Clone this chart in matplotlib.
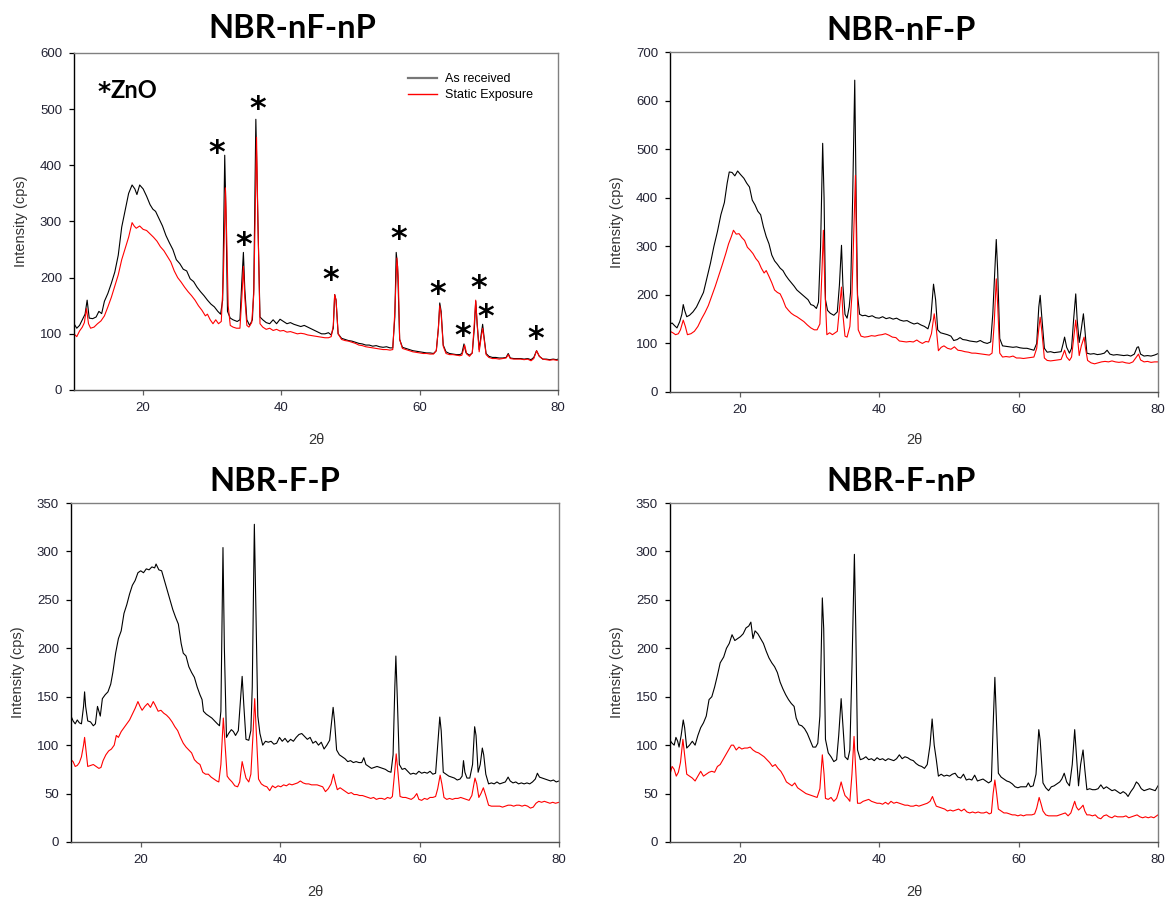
import matplotlib
matplotlib.use("Agg")
import matplotlib.pyplot as plt
from matplotlib.lines import Line2D

# ---------------- data (2theta, intensity cps) ----------------
nFnP_received = [
    (10.0, 118), (10.4, 110), (10.8, 115), (11.2, 125), (11.6, 135), (11.9, 160), (12.2, 128), (12.7, 127),
    (13.2, 130), (13.6, 140), (14.0, 136), (14.4, 158), (14.9, 172), (15.4, 190), (15.9, 210), (16.4, 240),
    (16.9, 290), (17.4, 320), (17.9, 350), (18.4, 365), (18.8, 358), (19.1, 348), (19.5, 365), (20.0, 358),
    (20.5, 345), (21.0, 330), (21.4, 322), (21.8, 318), (22.3, 305), (22.8, 292), (23.3, 275), (23.8, 262),
    (24.3, 250), (24.8, 232), (25.3, 225), (25.8, 215), (26.3, 212), (26.8, 198), (27.3, 193), (27.8, 183),
    (28.3, 175), (28.8, 168), (29.3, 160), (29.8, 153), (30.3, 148), (30.8, 140), (31.2, 135), (31.5, 160),
    (31.8, 418), (32.0, 300), (32.2, 140), (32.6, 128), (33.0, 125), (33.6, 122), (34.0, 125), (34.3, 200),
    (34.5, 245), (34.7, 180), (35.0, 125), (35.4, 115), (35.8, 125), (36.0, 180), (36.3, 482), (36.6, 300),
    (36.9, 130), (37.3, 125), (37.8, 120), (38.3, 118), (38.8, 125), (39.3, 118), (39.8, 126), (40.3, 122),
    (40.8, 118), (41.3, 120), (41.8, 117), (42.3, 115), (42.8, 113), (43.3, 115), (43.8, 112), (44.3, 109),
    (44.8, 106), (45.3, 103), (45.8, 100), (46.3, 100), (46.8, 102), (47.2, 98), (47.5, 110), (47.7, 170),
    (47.9, 160), (48.2, 100), (48.7, 92), (49.2, 90), (49.7, 88), (50.2, 87), (50.7, 85), (51.2, 83),
    (51.7, 82), (52.2, 80), (52.7, 80), (53.2, 78), (53.7, 79), (54.2, 77), (54.7, 76), (55.2, 77),
    (55.7, 75), (56.1, 75), (56.4, 130), (56.6, 245), (56.8, 220), (57.1, 90), (57.5, 76), (58.0, 74),
    (58.5, 72), (59.0, 70), (59.5, 69), (60.0, 68), (60.5, 67), (61.0, 66), (61.5, 66), (62.0, 65),
    (62.4, 70), (62.7, 110), (62.9, 155), (63.1, 140), (63.4, 80), (63.8, 68), (64.3, 65), (64.8, 64),
    (65.3, 63), (65.8, 63), (66.1, 65), (66.4, 82), (66.7, 66), (67.2, 62), (67.6, 66), (67.9, 110),
    (68.1, 158), (68.3, 120), (68.6, 72), (68.9, 100), (69.1, 117), (69.3, 95), (69.6, 65), (70.0, 60),
    (70.5, 58), (71.0, 58), (71.5, 57), (72.0, 57), (72.5, 58), (72.8, 65), (73.1, 57), (73.6, 56),
    (74.1, 56), (74.6, 56), (75.1, 55), (75.6, 56), (76.1, 54), (76.5, 58), (76.9, 70), (77.3, 60),
    (77.8, 55), (78.3, 55), (78.8, 54), (79.3, 55), (79.8, 54), (80.0, 55),
]
nFnP_static = [
    (10.0, 100), (10.4, 95), (10.8, 105), (11.2, 112), (11.5, 120), (11.8, 145), (12.1, 118), (12.4, 110),
    (12.9, 112), (13.4, 118), (13.9, 123), (14.4, 132), (14.9, 148), (15.4, 165), (15.9, 185), (16.4, 205),
    (16.9, 232), (17.4, 252), (17.9, 272), (18.4, 298), (18.7, 292), (19.0, 288), (19.5, 292), (20.0, 286),
    (20.5, 284), (21.0, 278), (21.5, 272), (22.0, 265), (22.5, 255), (23.0, 248), (23.5, 238), (24.0, 228),
    (24.5, 212), (25.0, 200), (25.5, 192), (26.0, 183), (26.5, 175), (27.0, 168), (27.5, 160), (28.0, 150),
    (28.5, 142), (29.0, 132), (29.3, 135), (29.7, 125), (30.1, 118), (30.5, 125), (30.9, 118), (31.3, 122),
    (31.6, 200), (31.9, 360), (32.1, 265), (32.3, 150), (32.6, 115), (33.0, 112), (33.5, 110), (34.0, 110),
    (34.3, 170), (34.5, 220), (34.7, 165), (35.0, 115), (35.3, 112), (35.7, 120), (36.0, 170), (36.4, 450),
    (36.6, 300), (36.9, 118), (37.3, 112), (37.8, 108), (38.3, 110), (38.8, 106), (39.3, 108), (39.8, 105),
    (40.3, 106), (40.8, 103), (41.3, 104), (41.8, 102), (42.3, 100), (42.8, 101), (43.3, 100), (43.8, 98),
    (44.3, 97), (44.8, 96), (45.3, 95), (45.8, 94), (46.3, 93), (46.8, 93), (47.2, 95), (47.5, 115),
    (47.7, 170), (47.9, 160), (48.2, 100), (48.7, 90), (49.2, 88), (49.7, 87), (50.2, 85), (50.7, 83),
    (51.2, 80), (51.7, 79), (52.2, 77), (52.7, 76), (53.2, 75), (53.7, 74), (54.2, 73), (54.7, 72),
    (55.2, 72), (55.7, 71), (56.1, 72), (56.4, 140), (56.7, 235), (56.9, 200), (57.1, 90), (57.5, 74),
    (58.0, 72), (58.5, 70), (59.0, 68), (59.5, 67), (60.0, 66), (60.5, 65), (61.0, 65), (61.5, 64),
    (62.0, 64), (62.4, 70), (62.7, 110), (62.9, 150), (63.1, 135), (63.4, 78), (63.8, 65), (64.3, 63),
    (64.8, 63), (65.3, 62), (65.8, 61), (66.1, 62), (66.5, 80), (66.8, 64), (67.2, 60), (67.6, 66),
    (67.9, 120), (68.1, 160), (68.3, 118), (68.6, 68), (68.9, 95), (69.1, 110), (69.3, 92), (69.6, 63),
    (70.0, 58), (70.5, 56), (71.0, 56), (71.5, 55), (72.0, 56), (72.5, 57), (72.8, 63), (73.1, 56),
    (73.6, 55), (74.1, 55), (74.6, 55), (75.1, 54), (75.6, 55), (76.1, 52), (76.5, 56), (76.9, 70),
    (77.3, 60), (77.8, 55), (78.3, 54), (78.8, 53), (79.3, 54), (79.8, 53), (80.0, 53),
]

nFP_received = [
    (10.0, 140), (10.3, 142), (10.7, 136), (11.0, 132), (11.4, 145), (11.7, 160), (11.9, 180), (12.1, 168),
    (12.4, 155), (12.8, 158), (13.3, 165), (13.8, 175), (14.3, 190), (14.8, 205), (15.3, 235), (15.8, 265),
    (16.3, 300), (16.8, 330), (17.3, 365), (17.8, 390), (18.2, 430), (18.5, 453), (18.9, 452), (19.3, 445),
    (19.7, 455), (20.1, 448), (20.6, 440), (21.0, 430), (21.4, 422), (21.8, 395), (22.2, 385), (22.6, 372),
    (23.0, 365), (23.4, 340), (23.8, 320), (24.2, 305), (24.6, 282), (25.0, 270), (25.4, 263), (25.8, 255),
    (26.2, 250), (26.6, 240), (27.0, 232), (27.4, 225), (27.8, 218), (28.2, 210), (28.6, 205), (29.0, 200),
    (29.4, 195), (29.8, 190), (30.2, 180), (30.6, 178), (31.0, 172), (31.3, 185), (31.6, 300), (31.9, 512),
    (32.1, 400), (32.3, 190), (32.6, 168), (33.0, 162), (33.5, 158), (34.0, 165), (34.3, 220), (34.6, 302),
    (34.8, 220), (35.1, 160), (35.4, 152), (35.7, 175), (35.9, 205), (36.2, 400), (36.5, 642), (36.7, 400),
    (36.9, 200), (37.2, 160), (37.6, 157), (38.0, 158), (38.5, 155), (39.0, 157), (39.5, 153), (40.0, 152),
    (40.5, 155), (41.0, 151), (41.5, 153), (42.0, 150), (42.5, 152), (43.0, 148), (43.5, 146), (44.0, 147),
    (44.5, 143), (45.0, 140), (45.5, 142), (46.0, 138), (46.5, 135), (47.0, 130), (47.4, 150), (47.8, 222),
    (48.1, 190), (48.4, 128), (48.8, 122), (49.3, 120), (49.8, 118), (50.3, 115), (50.7, 106), (51.2, 108),
    (51.6, 112), (52.0, 108), (52.5, 107), (53.0, 105), (53.5, 104), (54.0, 103), (54.5, 106), (55.0, 102),
    (55.5, 100), (56.0, 103), (56.3, 160), (56.8, 314), (57.0, 250), (57.3, 110), (57.7, 95), (58.2, 94),
    (58.7, 93), (59.2, 92), (59.7, 93), (60.2, 91), (60.7, 90), (61.2, 90), (61.7, 88), (62.2, 86),
    (62.6, 100), (62.9, 175), (63.1, 199), (63.3, 160), (63.7, 90), (64.1, 82), (64.6, 83), (65.1, 81),
    (65.6, 82), (66.1, 83), (66.4, 100), (66.6, 113), (66.9, 92), (67.3, 80), (67.6, 90), (67.9, 150),
    (68.2, 202), (68.4, 150), (68.7, 102), (69.0, 130), (69.3, 161), (69.5, 130), (69.8, 80), (70.3, 78),
    (70.8, 79), (71.3, 77), (71.8, 78), (72.3, 80), (72.7, 86), (73.1, 78), (73.6, 76), (74.1, 77),
    (74.6, 76), (75.1, 75), (75.6, 76), (76.1, 74), (76.6, 78), (77.0, 92), (77.2, 93), (77.5, 78),
    (78.0, 74), (78.5, 75), (79.0, 74), (79.5, 76), (80.0, 79),
]
nFP_static = [
    (10.0, 125), (10.4, 122), (10.8, 118), (11.2, 120), (11.5, 128), (11.9, 148), (12.2, 135), (12.5, 118),
    (13.0, 120), (13.5, 125), (14.0, 135), (14.5, 150), (15.0, 163), (15.5, 178), (16.0, 198), (16.5, 218),
    (17.0, 240), (17.5, 262), (18.0, 285), (18.4, 305), (18.8, 320), (19.1, 333), (19.5, 325), (19.9, 326),
    (20.3, 318), (20.7, 312), (21.1, 298), (21.5, 292), (21.9, 285), (22.3, 275), (22.7, 268), (23.1, 255),
    (23.5, 245), (23.8, 250), (24.2, 238), (24.6, 225), (25.0, 210), (25.4, 205), (25.8, 202), (26.2, 190),
    (26.6, 175), (27.0, 168), (27.4, 162), (27.8, 158), (28.2, 155), (28.7, 150), (29.2, 145), (29.7, 138),
    (30.2, 132), (30.7, 128), (31.1, 128), (31.5, 140), (31.8, 250), (32.0, 333), (32.2, 220), (32.5, 118),
    (32.9, 122), (33.3, 118), (33.7, 122), (34.0, 125), (34.3, 170), (34.6, 216), (34.8, 160), (35.1, 115),
    (35.4, 113), (35.8, 135), (36.1, 200), (36.4, 350), (36.6, 446), (36.8, 250), (37.0, 128), (37.4, 115),
    (37.9, 113), (38.4, 114), (38.9, 116), (39.4, 115), (39.9, 117), (40.4, 118), (40.9, 120), (41.4, 117),
    (41.9, 113), (42.4, 112), (42.9, 105), (43.4, 104), (43.9, 103), (44.4, 104), (44.9, 103), (45.4, 107),
    (45.8, 103), (46.2, 100), (46.7, 104), (47.1, 103), (47.5, 120), (47.9, 161), (48.2, 130), (48.5, 85),
    (48.9, 92), (49.3, 95), (49.8, 90), (50.3, 88), (50.8, 93), (51.3, 86), (51.8, 85), (52.3, 83),
    (52.8, 82), (53.3, 80), (53.8, 80), (54.3, 79), (54.8, 78), (55.3, 77), (55.8, 76), (56.2, 80),
    (56.5, 140), (56.8, 233), (57.0, 180), (57.3, 80), (57.7, 72), (58.2, 73), (58.7, 72), (59.2, 74),
    (59.7, 70), (60.2, 70), (60.7, 69), (61.2, 70), (61.7, 71), (62.2, 72), (62.6, 90), (62.9, 130),
    (63.1, 154), (63.3, 130), (63.7, 70), (64.1, 65), (64.6, 64), (65.1, 65), (65.6, 66), (66.1, 67),
    (66.4, 78), (66.6, 86), (66.9, 72), (67.3, 65), (67.6, 72), (67.9, 110), (68.2, 148), (68.4, 120),
    (68.7, 75), (69.0, 95), (69.4, 113), (69.6, 90), (69.9, 65), (70.4, 60), (70.9, 58), (71.4, 60),
    (71.9, 62), (72.4, 63), (72.9, 62), (73.4, 64), (73.9, 62), (74.4, 61), (74.9, 62), (75.4, 60),
    (75.9, 59), (76.4, 62), (76.8, 70), (77.2, 78), (77.5, 66), (78.0, 62), (78.5, 63), (79.0, 61),
    (79.5, 62), (80.0, 62),
]

FP_received = [
    (10.0, 130), (10.3, 125), (10.6, 122), (10.9, 126), (11.2, 123), (11.5, 122), (11.8, 140), (11.95, 155),
    (12.1, 140), (12.4, 125), (12.8, 124), (13.2, 120), (13.5, 122), (13.8, 140), (14.0, 135), (14.2, 130),
    (14.5, 148), (14.9, 152), (15.3, 155), (15.7, 163), (16.0, 175), (16.4, 195), (16.8, 210), (17.2, 218),
    (17.6, 236), (18.0, 245), (18.4, 256), (18.8, 265), (19.2, 270), (19.6, 278), (20.0, 280), (20.4, 278),
    (20.8, 282), (21.2, 281), (21.6, 284), (22.0, 283), (22.2, 287), (22.6, 281), (23.0, 280), (23.4, 270),
    (23.8, 260), (24.2, 250), (24.6, 240), (25.0, 232), (25.4, 225), (25.8, 205), (26.1, 195), (26.5, 192),
    (26.9, 181), (27.3, 175), (27.7, 170), (28.1, 160), (28.5, 152), (28.8, 147), (29.0, 135), (29.4, 132),
    (29.8, 130), (30.2, 128), (30.6, 125), (31.0, 122), (31.3, 120), (31.5, 135), (31.8, 304), (32.0, 200),
    (32.3, 108), (32.6, 112), (33.0, 116), (33.3, 114), (33.6, 110), (34.0, 115), (34.3, 145), (34.55, 171),
    (34.8, 140), (35.1, 106), (35.5, 105), (35.8, 115), (36.0, 160), (36.3, 328), (36.5, 250), (36.8, 130),
    (37.1, 112), (37.5, 100), (37.9, 104), (38.3, 103), (38.7, 104), (39.1, 101), (39.5, 102), (39.9, 108),
    (40.3, 104), (40.7, 107), (41.1, 103), (41.5, 106), (41.9, 104), (42.3, 108), (42.7, 111), (43.1, 112),
    (43.5, 109), (43.9, 106), (44.3, 108), (44.7, 102), (45.1, 104), (45.5, 100), (45.9, 103), (46.3, 96),
    (46.7, 100), (47.1, 105), (47.4, 125), (47.6, 139), (47.8, 125), (48.1, 95), (48.5, 90), (48.9, 88),
    (49.3, 86), (49.7, 83), (50.1, 84), (50.5, 82), (50.9, 83), (51.3, 82), (51.7, 82), (52.0, 87),
    (52.3, 80), (52.7, 78), (53.1, 76), (53.5, 77), (53.9, 78), (54.3, 77), (54.7, 76), (55.1, 75),
    (55.5, 73), (55.9, 72), (56.2, 90), (56.45, 160), (56.6, 192), (56.8, 150), (57.1, 80), (57.5, 75),
    (57.9, 76), (58.3, 73), (58.7, 70), (59.1, 71), (59.5, 70), (59.9, 73), (60.3, 71), (60.7, 72),
    (61.1, 71), (61.5, 73), (61.9, 70), (62.3, 71), (62.6, 100), (62.9, 129), (63.1, 115), (63.4, 72),
    (63.8, 70), (64.2, 68), (64.6, 67), (65.0, 66), (65.4, 64), (65.8, 65), (66.1, 68), (66.3, 84),
    (66.5, 72), (66.8, 66), (67.2, 66), (67.6, 80), (67.9, 119), (68.1, 110), (68.4, 72), (68.7, 80),
    (69.0, 97), (69.2, 90), (69.5, 70), (69.9, 60), (70.3, 61), (70.7, 60), (71.1, 62), (71.5, 60),
    (71.9, 61), (72.3, 62), (72.7, 67), (73.0, 63), (73.4, 61), (73.8, 62), (74.2, 60), (74.6, 61),
    (75.0, 60), (75.4, 61), (75.8, 60), (76.2, 62), (76.6, 65), (76.9, 71), (77.2, 67), (77.6, 66),
    (78.0, 65), (78.4, 64), (78.8, 63), (79.2, 64), (79.6, 62), (80.0, 63),
]
FP_static = [
    (10.0, 85), (10.3, 83), (10.6, 78), (10.9, 79), (11.2, 82), (11.5, 88), (11.8, 100), (11.95, 108),
    (12.1, 98), (12.4, 78), (12.8, 79), (13.2, 80), (13.6, 78), (14.0, 76), (14.3, 77), (14.6, 84),
    (15.0, 90), (15.4, 94), (15.8, 96), (16.2, 100), (16.5, 110), (16.8, 108), (17.2, 114), (17.6, 118),
    (18.0, 122), (18.4, 126), (18.8, 132), (19.2, 138), (19.6, 145), (19.9, 140), (20.2, 136), (20.6, 140),
    (21.0, 143), (21.4, 139), (21.8, 145), (22.1, 141), (22.5, 135), (22.9, 136), (23.3, 133), (23.7, 131),
    (24.1, 128), (24.5, 124), (24.9, 119), (25.3, 115), (25.7, 108), (26.1, 102), (26.5, 98), (26.9, 95),
    (27.3, 92), (27.7, 85), (28.1, 82), (28.5, 80), (28.9, 72), (29.3, 70), (29.7, 70), (30.1, 67),
    (30.5, 65), (30.9, 63), (31.2, 62), (31.5, 80), (31.85, 128), (32.1, 100), (32.4, 68), (32.7, 65),
    (33.1, 62), (33.5, 58), (33.9, 57), (34.2, 62), (34.55, 83), (34.8, 75), (35.1, 66), (35.5, 62),
    (35.8, 70), (36.1, 110), (36.35, 148), (36.6, 110), (36.9, 65), (37.3, 60), (37.7, 58), (38.1, 57),
    (38.5, 53), (38.9, 58), (39.3, 56), (39.7, 58), (40.1, 57), (40.5, 59), (40.9, 58), (41.3, 60),
    (41.7, 59), (42.1, 60), (42.5, 61), (42.9, 63), (43.3, 61), (43.7, 60), (44.1, 60), (44.5, 59),
    (44.9, 59), (45.3, 59), (45.7, 58), (46.1, 57), (46.5, 52), (46.9, 55), (47.3, 60), (47.65, 70),
    (47.9, 62), (48.2, 54), (48.6, 56), (49.0, 54), (49.4, 52), (49.8, 50), (50.2, 51), (50.6, 49),
    (51.0, 49), (51.4, 48), (51.8, 48), (52.2, 47), (52.6, 46), (53.0, 45), (53.4, 46), (53.8, 44),
    (54.2, 45), (54.6, 45), (55.0, 44), (55.4, 46), (55.8, 45), (56.1, 47), (56.4, 70), (56.65, 91),
    (56.9, 72), (57.2, 47), (57.6, 46), (58.0, 46), (58.4, 45), (58.8, 44), (59.2, 46), (59.6, 50),
    (59.9, 44), (60.3, 43), (60.7, 45), (61.1, 44), (61.5, 46), (61.9, 46), (62.3, 47), (62.6, 55),
    (62.95, 69), (63.2, 60), (63.5, 46), (63.9, 44), (64.3, 45), (64.7, 44), (65.1, 45), (65.5, 45),
    (65.9, 46), (66.3, 45), (66.7, 44), (67.1, 43), (67.5, 48), (67.95, 66), (68.2, 60), (68.5, 46),
    (68.8, 50), (69.15, 56), (69.5, 48), (69.9, 38), (70.3, 37), (70.7, 37), (71.1, 37), (71.5, 37),
    (71.9, 36), (72.3, 37), (72.7, 38), (73.1, 38), (73.5, 37), (73.9, 38), (74.3, 38), (74.7, 37),
    (75.1, 38), (75.5, 37), (75.9, 35), (76.3, 36), (76.7, 40), (77.1, 42), (77.5, 41), (77.9, 42),
    (78.3, 41), (78.7, 40), (79.1, 41), (79.5, 40), (80.0, 41),
]

FnP_received = [
    (10.0, 105), (10.3, 102), (10.6, 100), (10.85, 108), (11.1, 104), (11.3, 98), (11.6, 110), (11.9, 126),
    (12.1, 118), (12.4, 97), (12.8, 100), (13.2, 104), (13.6, 100), (14.0, 110), (14.4, 118), (14.8, 123),
    (15.2, 130), (15.6, 147), (16.0, 150), (16.4, 160), (16.8, 172), (17.2, 185), (17.7, 191), (18.1, 200),
    (18.5, 205), (18.9, 214), (19.3, 208), (19.7, 210), (20.1, 212), (20.5, 215), (20.9, 221), (21.3, 223),
    (21.6, 227), (21.9, 210), (22.2, 218), (22.6, 215), (23.0, 210), (23.4, 205), (23.8, 197), (24.2, 190),
    (24.6, 185), (25.0, 181), (25.4, 175), (25.8, 165), (26.2, 158), (26.6, 152), (27.0, 147), (27.4, 143),
    (27.8, 140), (28.1, 128), (28.5, 121), (28.9, 120), (29.3, 117), (29.7, 112), (30.1, 105), (30.5, 98),
    (30.9, 98), (31.2, 102), (31.5, 130), (31.85, 252), (32.05, 220), (32.3, 106), (32.7, 92), (33.1, 88),
    (33.5, 83), (33.9, 85), (34.2, 110), (34.55, 148), (34.8, 120), (35.1, 88), (35.5, 85), (35.8, 95),
    (36.1, 180), (36.45, 297), (36.65, 220), (36.9, 95), (37.3, 85), (37.7, 86), (38.1, 88), (38.5, 85),
    (38.9, 86), (39.3, 84), (39.7, 87), (40.1, 85), (40.5, 86), (40.9, 84), (41.3, 86), (41.7, 85),
    (42.1, 84), (42.5, 86), (42.9, 90), (43.3, 86), (43.7, 88), (44.1, 87), (44.5, 85), (44.9, 84),
    (45.3, 81), (45.7, 79), (46.1, 78), (46.5, 76), (46.9, 80), (47.3, 100), (47.6, 127), (47.9, 100),
    (48.2, 85), (48.5, 68), (48.9, 70), (49.3, 68), (49.7, 69), (50.1, 68), (50.5, 70), (50.9, 71),
    (51.3, 67), (51.7, 66), (52.1, 70), (52.5, 64), (52.9, 65), (53.3, 64), (53.7, 69), (54.1, 63),
    (54.5, 64), (54.9, 65), (55.3, 63), (55.7, 61), (56.1, 63), (56.35, 120), (56.6, 170), (56.85, 120),
    (57.1, 71), (57.5, 67), (57.9, 65), (58.3, 63), (58.7, 62), (59.1, 60), (59.5, 57), (59.9, 56),
    (60.3, 57), (60.7, 57), (61.1, 57), (61.4, 61), (61.7, 57), (62.1, 58), (62.5, 70), (62.9, 116),
    (63.1, 105), (63.5, 61), (63.9, 56), (64.3, 53), (64.7, 57), (65.1, 58), (65.5, 60), (65.9, 62),
    (66.2, 65), (66.55, 71), (66.9, 62), (67.3, 58), (67.7, 80), (68.05, 116), (68.3, 90), (68.6, 58),
    (68.9, 80), (69.25, 95), (69.5, 75), (69.8, 54), (70.2, 55), (70.6, 54), (71.0, 54), (71.4, 55),
    (71.8, 59), (72.2, 55), (72.6, 57), (73.0, 55), (73.4, 53), (73.8, 54), (74.2, 52), (74.6, 50),
    (75.0, 52), (75.4, 50), (75.7, 47), (76.1, 52), (76.5, 56), (76.9, 62), (77.2, 60), (77.6, 55),
    (78.0, 53), (78.4, 54), (78.8, 55), (79.2, 54), (79.6, 53), (80.0, 58),
]
FnP_static = [
    (10.0, 70), (10.3, 78), (10.6, 75), (10.9, 68), (11.2, 72), (11.5, 82), (11.85, 106), (12.1, 90),
    (12.4, 70), (12.8, 68), (13.2, 66), (13.6, 63), (14.0, 68), (14.4, 73), (14.8, 68), (15.2, 70),
    (15.6, 72), (16.0, 73), (16.4, 72), (16.8, 78), (17.2, 80), (17.6, 85), (18.0, 90), (18.4, 95),
    (18.8, 100), (19.1, 100), (19.5, 95), (19.9, 98), (20.3, 96), (20.7, 97), (21.1, 97), (21.5, 98),
    (21.9, 95), (22.3, 93), (22.7, 92), (23.1, 90), (23.5, 88), (23.9, 85), (24.3, 82), (24.7, 78),
    (25.1, 80), (25.5, 76), (25.9, 73), (26.3, 68), (26.7, 62), (27.1, 60), (27.5, 58), (27.9, 61),
    (28.3, 56), (28.7, 54), (29.1, 52), (29.5, 50), (29.9, 49), (30.3, 48), (30.7, 47), (31.1, 46),
    (31.5, 55), (31.85, 90), (32.1, 70), (32.3, 45), (32.7, 44), (33.1, 46), (33.5, 42), (33.9, 45),
    (34.2, 52), (34.55, 62), (34.8, 55), (35.1, 48), (35.5, 45), (35.8, 42), (36.1, 70), (36.4, 109),
    (36.6, 80), (36.9, 40), (37.3, 40), (37.7, 42), (38.1, 43), (38.5, 44), (38.9, 42), (39.3, 41),
    (39.7, 40), (40.1, 40), (40.5, 39), (40.9, 41), (41.3, 39), (41.7, 42), (42.1, 40), (42.5, 41),
    (42.9, 40), (43.3, 39), (43.7, 38), (44.1, 38), (44.5, 37), (44.9, 37), (45.3, 38), (45.7, 37),
    (46.1, 38), (46.5, 39), (46.9, 40), (47.3, 42), (47.65, 47), (47.9, 42), (48.2, 37), (48.6, 36),
    (49.0, 35), (49.4, 34), (49.8, 32), (50.2, 33), (50.6, 32), (51.0, 33), (51.4, 34), (51.8, 32),
    (52.2, 34), (52.6, 31), (53.0, 30), (53.4, 31), (53.8, 30), (54.2, 31), (54.6, 30), (55.0, 30),
    (55.4, 31), (55.8, 29), (56.1, 30), (56.35, 50), (56.6, 64), (56.85, 50), (57.1, 34), (57.5, 32),
    (57.9, 30), (58.3, 30), (58.7, 29), (59.1, 28), (59.5, 28), (59.9, 27), (60.3, 28), (60.7, 27),
    (61.1, 28), (61.5, 28), (61.9, 28), (62.3, 29), (62.6, 35), (62.95, 46), (63.2, 40), (63.5, 32),
    (63.9, 28), (64.3, 27), (64.7, 27), (65.1, 27), (65.5, 27), (65.9, 28), (66.3, 29), (66.7, 30),
    (67.1, 27), (67.5, 30), (68.05, 42), (68.3, 36), (68.6, 33), (68.9, 35), (69.25, 38), (69.5, 32),
    (69.8, 28), (70.2, 28), (70.6, 27), (71.0, 28), (71.4, 25), (71.8, 24), (72.2, 27), (72.6, 28),
    (73.0, 26), (73.4, 25), (73.8, 27), (74.2, 26), (74.6, 26), (75.0, 26), (75.4, 27), (75.8, 25),
    (76.2, 26), (76.6, 27), (77.0, 28), (77.4, 26), (77.8, 25), (78.2, 26), (78.6, 25), (79.0, 26),
    (79.4, 25), (79.8, 27), (80.0, 28),
]

# ZnO reflection marks on the first panel (2theta, height of the mark centre)
zno_marks = [(30.6, 428), (36.5, 505), (34.5, 264), (47.2, 201), (57.0, 275),
             (62.6, 177), (66.2, 101), (68.6, 187), (69.6, 135), (76.8, 97)]

titles = ["NBR-nF-nP", "NBR-nF-P", "NBR-F-P", "NBR-F-nP"]
series = [(nFnP_received, nFnP_static), (nFP_received, nFP_static),
          (FP_received, FP_static), (FnP_received, FnP_static)]
y_max = [600, 700, 350, 350]
y_step = [100, 100, 50, 50]
x_ticks = [20, 40, 60, 80]
legend_labels = ["As received", "Static Exposure"]

# ---------------- layout ----------------
W, H = 1166, 899
fig = plt.figure(figsize=(W / 100, H / 100), dpi=100)

def px_rect(l, t, r, b):
    return [l / W, 1 - b / H, (r - l) / W, (b - t) / H]

rects = [px_rect(74, 53, 558, 390), px_rect(670, 52, 1158, 392),
         px_rect(71, 503, 559, 842), px_rect(670, 503, 1158, 842)]
title_pos = [(292, 29), (901, 31), (275, 481), (901, 481)]
ylabel_pos = [(21, 221), (617, 222), (18, 672), (617, 672)]
xlabel_pos = [(316, 440), (914, 440), (315, 892), (914, 892)]

tick_font = "Liberation Sans"
title_font = "Lato"
star_font = "DejaVu Sans"
STAR_SIZE = 23

for i in range(4):
    ax = fig.add_axes(rects[i])
    rec, sta = series[i]
    ax.plot([p[0] for p in rec], [p[1] for p in rec], color="#000000", lw=0.8)
    ax.plot([p[0] for p in sta], [p[1] for p in sta], color="#ff0000", lw=0.8)
    ax.set_xlim(10, 80)
    ax.set_ylim(0, y_max[i])
    ax.set_xticks(x_ticks)
    ax.set_yticks(list(range(0, y_max[i] + 1, y_step[i])))
    ax.spines["left"].set_color("#000000")
    ax.spines["bottom"].set_color("#505050")
    ax.spines["top"].set_color("#808080")
    ax.spines["right"].set_color("#808080")
    for s in ax.spines.values():
        s.set_linewidth(1.0)
    ax.tick_params(axis="both", direction="out", length=3.6, width=0.9, pad=5,
                   labelsize=9.5, labelcolor="#222233")
    ax.tick_params(axis="y", color="#000000")
    ax.tick_params(axis="x", color="#606060")
    for lab in ax.get_xticklabels() + ax.get_yticklabels():
        lab.set_fontfamily(tick_font)

    tx, ty = title_pos[i]
    fig.text(tx / W, 1 - ty / H, titles[i], ha="center", va="center",
             fontsize=23.5, fontweight="bold", family=title_font, color="#000000")
    lx, ly = ylabel_pos[i]
    fig.text(lx / W, 1 - ly / H, "Intensity (cps)", rotation=90, ha="center", va="center",
             fontsize=10.5, family=tick_font, color="#333333")
    xx, xy = xlabel_pos[i]
    fig.text(xx / W, 1 - xy / H, "2θ", ha="center", va="center",
             fontsize=10.5, family=tick_font, color="#333333")

    if i == 0:
        # asterisk glyph sits high in the em box: shift baseline down so the glyph is centred
        for mx, my in zno_marks:
            ax.annotate("*", xy=(mx, my), xytext=(0, -0.38 * STAR_SIZE), textcoords="offset points",
                        ha="center", va="baseline", fontsize=STAR_SIZE, fontweight="bold",
                        family=star_font, color="#000000")
        fig.text(104 / W, 1 - 99 / H, "*", ha="center", va="baseline", fontsize=18,
                 fontweight="bold", family=star_font, color="#000000")
        fig.text(110 / W, 1 - 98 / H, "ZnO", ha="left", va="baseline", fontsize=17,
                 fontweight="bold", family=title_font, color="#000000")
        handles = [Line2D([], [], color="#777777", lw=1.6),
                   Line2D([], [], color="#ff0000", lw=1.0)]
        ax.legend(handles, legend_labels, loc="upper left", bbox_to_anchor=(0.690, 0.94),
                  frameon=False, prop={"family": tick_font, "size": 9},
                  handlelength=2.3, handletextpad=0.7, labelspacing=0.3,
                  borderpad=0, borderaxespad=0)

fig.savefig("out.png", dpi=100)
